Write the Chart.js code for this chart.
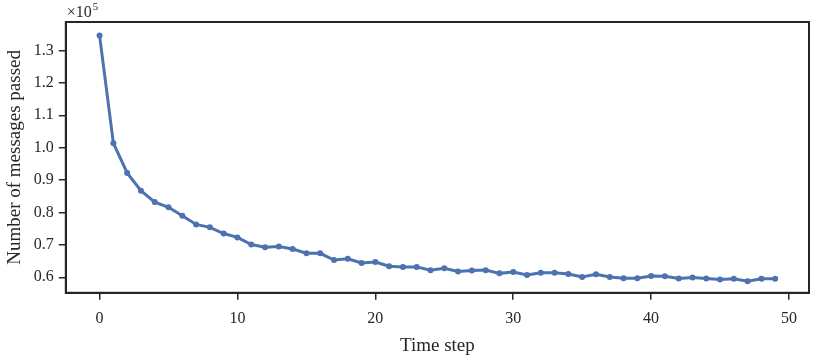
<!DOCTYPE html>
<html>
<head>
<meta charset="utf-8">
<script src="https://cdn.jsdelivr.net/npm/chart.js@4"></script>
<style>
  html, body { margin: 0; padding: 0; background: #fff; }
  #wrap { width: 814px; height: 356px; }
</style>
</head>
<body>
<div id="wrap"><canvas id="msgChart"></canvas></div>
<script>
// time steps 0..49
const steps = [
  0, 1, 2, 3, 4, 5, 6, 7, 8, 9,
  10, 11, 12, 13, 14, 15, 16, 17, 18, 19,
  20, 21, 22, 23, 24, 25, 26, 27, 28, 29,
  30, 31, 32, 33, 34, 35, 36, 37, 38, 39,
  40, 41, 42, 43, 44, 45, 46, 47, 48, 49
];
// number of messages passed
const messages = [
  134600, 101400, 92200, 86700, 83200, 81600, 79000, 76300, 75400, 73500,
  72300, 70100, 69300, 69500, 68700, 67400, 67400, 65300, 65700, 64400,
  64700, 63400, 63200, 63200, 62200, 62800, 61800, 62100, 62200, 61200,
  61600, 60700, 61400, 61400, 61000, 60100, 60900, 60100, 59700, 59700,
  60400, 60300, 59600, 59900, 59600, 59300, 59500, 58800, 59500, 59500
];
const xTicks = [0, 10, 20, 30, 40, 50];
const yTicks = [60000, 70000, 80000, 90000, 100000, 110000, 120000, 130000];

const FONT = "'Liberation Serif', 'DejaVu Serif', serif";
const INK = '#262626';

// box around the axes + the x10^5 offset label
const frame = {
  id: 'frame',
  afterDraw(chart) {
    const { ctx, chartArea: a } = chart;
    ctx.save();
    ctx.strokeStyle = INK;
    ctx.lineWidth = 2;
    ctx.strokeRect(a.left, a.top, a.right - a.left, a.bottom - a.top);
    ctx.fillStyle = INK;
    ctx.font = "16px " + FONT;
    ctx.textBaseline = 'alphabetic';
    ctx.fillText('\u00d710', a.left + 1, a.top - 5);
    const w = ctx.measureText('\u00d710').width;
    ctx.font = "11px " + FONT;
    ctx.fillText('5', a.left + 1 + w + 1, a.top - 12);
    ctx.restore();
  }
};

new Chart(document.getElementById('msgChart'), {
  type: 'line',
  data: {
    datasets: [{
      data: steps.map((s, i) => ({ x: s, y: messages[i] })),
      borderColor: '#4c72b0',
      backgroundColor: '#4c72b0',
      pointBackgroundColor: '#4c72b0',
      pointBorderColor: '#4c72b0',
      borderWidth: 3,
      pointRadius: 3,
      pointBorderWidth: 0,
      tension: 0,
      fill: false,
    }]
  },
  options: {
    responsive: true,
    maintainAspectRatio: false,
    animation: false,
    layout: { padding: { left: 4, right: 5, top: 22, bottom: 0 } },
    plugins: { legend: { display: false }, tooltip: { enabled: false } },
    scales: {
      x: {
        type: 'linear',
        min: -2.45,
        max: 51.45,
        afterBuildTicks: (axis) => { axis.ticks = xTicks.map(v => ({ value: v })); },
        grid: { drawOnChartArea: false, color: INK, lineWidth: 1.5, tickLength: 7 },
        border: { color: INK, width: 2 },
        ticks: { color: INK, padding: 9, maxRotation: 0, font: { size: 16, family: FONT } },
        title: { display: true, text: 'Time step', color: INK, padding: { top: 0, bottom: 0 }, font: { size: 19, family: FONT, lineHeight: 1.0 } }
      },
      y: {
        min: 55200,
        max: 138800,
        afterBuildTicks: (axis) => { axis.ticks = yTicks.map(v => ({ value: v })); },
        grid: { drawOnChartArea: false, color: INK, lineWidth: 1.5, tickLength: 7 },
        border: { color: INK, width: 2 },
        ticks: {
          color: INK, padding: 5, font: { size: 16, family: FONT },
          callback: (v) => (v / 100000).toFixed(1)
        },
        title: { display: true, text: 'Number of messages passed', color: INK, padding: { top: 0, bottom: 2 }, font: { size: 19, family: FONT } }
      }
    }
  },
  plugins: [frame]
});
</script>
</body>
</html>
